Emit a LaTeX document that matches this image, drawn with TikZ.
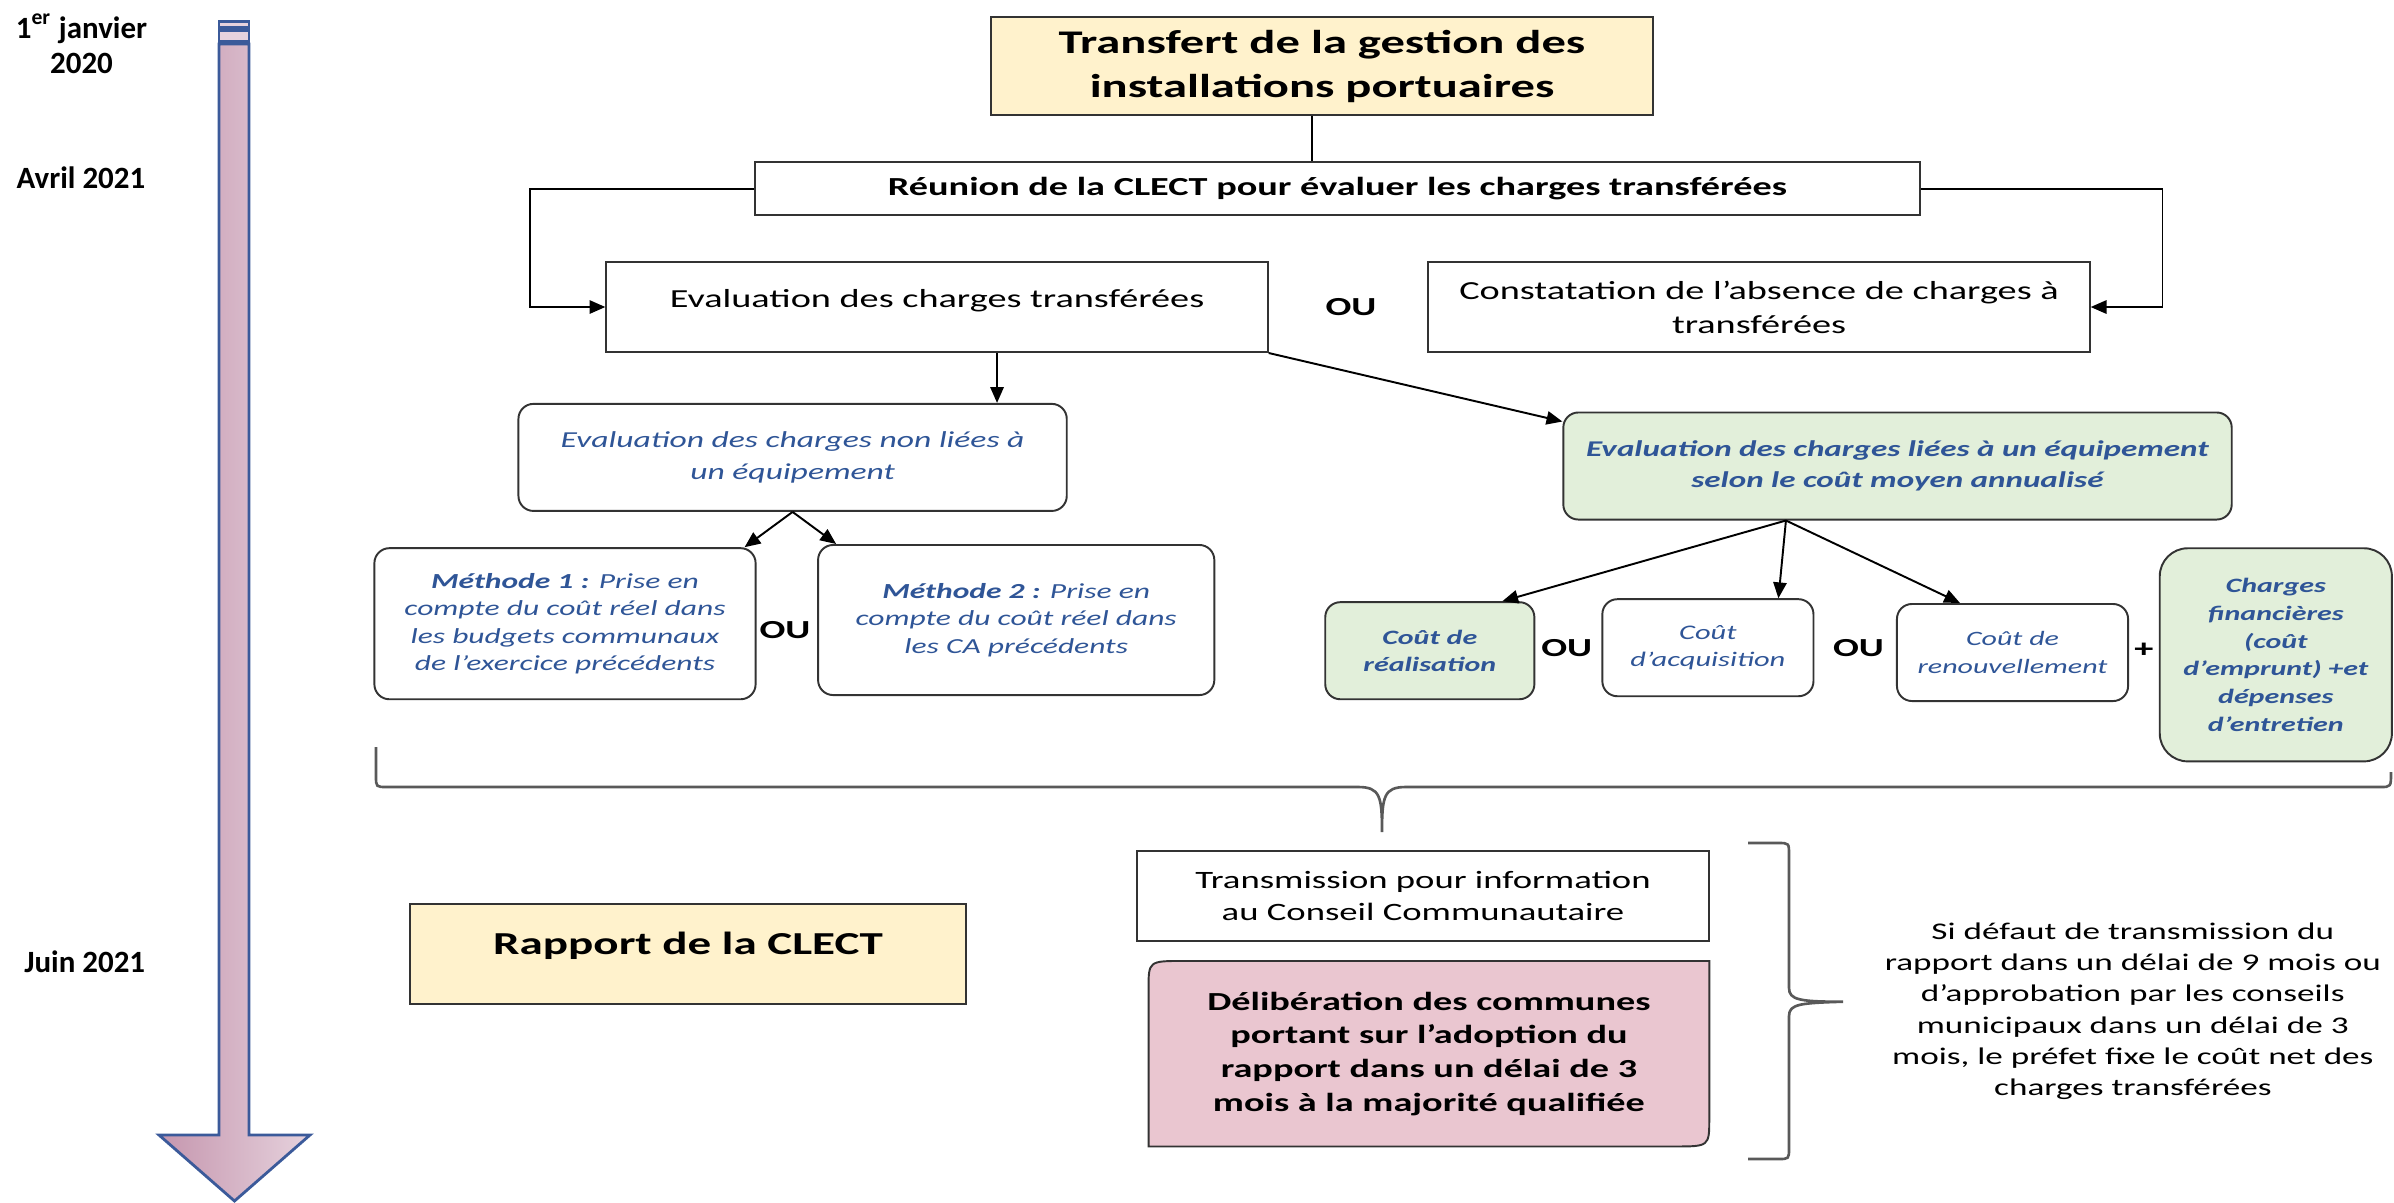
\documentclass[tikz,border=0pt]{standalone}
\usepackage{fontspec}
\setmainfont{Carlito}[FakeStretch=1.47]
\newfontfamily\datefont{Carlito}
\usepackage{xcolor}
\usepackage{tikz}
\usetikzlibrary{arrows.meta,backgrounds}

\definecolor{evalblue}{HTML}{2F5597}
\definecolor{notegreen}{HTML}{E2EFDA}
\definecolor{titleyellow}{HTML}{FFF2CC}
\definecolor{delibpink}{HTML}{EAC6D0}
\definecolor{axisblue}{HTML}{3B5A9A}
\definecolor{axisdark}{HTML}{C596AE}
\definecolor{axislight}{HTML}{E6D2DD}

\newcommand{\fsz}[2]{\fontsize{#1pt}{#2pt}\selectfont}

\begin{document}
\begin{tikzpicture}[
  x=0.01cm, y=-0.01cm,   % one unit = one pixel of the page, y going down
  >={Triangle[length=4.5pt,width=3.8pt]},
  flatnode/.style={rectangle, draw=black!80, fill=white, line width=0.55pt, align=center, inner sep=1pt},
  yellownode/.style={flatnode, fill=titleyellow},
  roundnode/.style={flatnode, rounded corners=0.15cm, text=evalblue},
  greennode/.style={roundnode, fill=notegreen},
  ornode/.style={font=\bfseries\fsz{7.4}{9}, inner sep=0pt},
  datenode/.style={font=\datefont\bfseries\fsz{8.8}{10}, align=center, inner sep=0pt},
  link/.style={draw, ->, line width=0.55pt},
  bracket/.style={draw=black!65, line width=0.75pt},
  axisline/.style={draw=axisblue, line width=0.8pt}
]
  \useasboundingbox (0,0) rectangle (2394,1202);

  % time axis
  \draw[axisline, left color=axisdark, right color=axislight]
    (219,44) -- (219,1135) -- (159,1135) -- (234.5,1201) -- (310,1135) -- (249,1135) -- (249,44) -- cycle;
  \draw[axisline, fill=axislight] (219,21.7) rectangle (249,27.3);
  \draw[axisline, fill=axislight] (219,30.7) rectangle (249,41.7);
  \node[datenode] (jan) at (81.5,44) {1\textsuperscript{er} janvier\\2020};
  \node[datenode] (avril) at (81,178) {Avril 2021};
  \node[datenode] (juin) at (84.7,961.7) {Juin 2021};

  % CLECT
  \node[yellownode, minimum width=6.61cm, minimum height=0.98cm, font=\bfseries\fsz{9.4}{12.5}] (trans) at (1322,66) {Transfert de la gestion des\\installations portuaires};
  \node[flatnode, minimum width=11.65cm, minimum height=0.53cm, font=\bfseries\fsz{7.4}{9}] (reunion) at (1337.5,188.7) {Réunion de la CLECT pour évaluer les charges transférées};
  \node[flatnode, minimum width=6.61cm, minimum height=0.9cm, text height=0.1cm, text depth=0.1cm, font=\fsz{7.4}{9.7}] (evalct) at (937,307) {Evaluation des charges transférées};
  \node[ornode] (ou1) at (1351,307) {OU};
  \node[flatnode, minimum width=6.61cm, minimum height=0.9cm, font=\fsz{7.4}{9.7}] (absence) at (1759,307) {Constatation de l’absence de charges à\\transférées};

  \draw[line width=0.55pt] ([xshift=-0.1cm]trans.south) -- ([xshift=-0.1cm]trans.south |- reunion.north);
  \draw[link] (reunion.west) -- ++(-2.24cm,0) |- (evalct.west);
  \draw[link] (reunion.east) -- ++(2.41cm,0) |- (absence.east);

  % charges non liees
  \node[roundnode, minimum width=5.48cm, minimum height=1.07cm, font=\itshape\fsz{6.5}{9.1}] (nonlie) at (792.6,457.4) {Evaluation des charges non liées à\\un équipement};
  \node[roundnode, minimum width=3.81cm, minimum height=1.51cm, font=\itshape\fsz{6.1}{7.8}] (meth1) at (565,623.7) {\textbf{Méthode 1 :} Prise en\\compte du coût réel dans\\les budgets communaux\\de l’exercice précédents};
  \node[ornode] (ou2) at (785,630) {OU};
  \node[roundnode, minimum width=3.96cm, minimum height=1.5cm, font=\itshape\fsz{6.1}{7.8}] (meth2) at (1016.2,620) {\textbf{Méthode 2 :} Prise en\\compte du coût réel dans\\les CA précédents};

  \draw[link] ([xshift=0.6cm]evalct.south) -- ([xshift=0.6cm]evalct.south |- nonlie.north);
  \draw[link] (nonlie.south) -- ([xshift=-0.12cm]meth1.north east);
  \draw[link] (nonlie.south) -- ([xshift=0.19cm]meth2.north west);

  % charges liees a un equipement
  \node[greennode, minimum width=6.68cm, minimum height=1.07cm, font=\bfseries\itshape\fsz{6.4}{8.8}] (lie) at (1897.5,466) {Evaluation des charges liées à un équipement\\selon le coût moyen annualisé};
  \node[greennode, minimum width=2.09cm, minimum height=0.97cm, font=\bfseries\itshape\fsz{5.8}{7.7}] (real) at (1429.8,650.7) {Coût de\\réalisation};
  \node[ornode] (ou3) at (1566.7,648.3) {OU};
  \node[roundnode, minimum width=2.11cm, minimum height=0.97cm, font=\itshape\fsz{5.9}{7.7}] (acq) at (1707.9,647.7) {Coût\\d’acquisition};
  \node[ornode] (ou4) at (1858.5,648.3) {OU};
  \node[roundnode, minimum width=2.31cm, minimum height=0.97cm, font=\itshape\fsz{5.8}{7.7}] (renouv) at (2012.5,652.5) {Coût de\\renouvellement};
  \node[ornode] (plus) at (2143.8,650) {+};
  \node[greennode, rounded corners=0.28cm, minimum width=2.32cm, minimum height=2.13cm, font=\bfseries\itshape\fsz{5.8}{7.9}] (finance) at (2275.8,654.8) {Charges\\financières\\(coût\\d’emprunt) +et\\dépenses\\d’entretien};

  \draw[link] (evalct.south east) -- ([yshift=-0.1cm]lie.north west);
  \draw[link] ([xshift=-1.115cm]lie.south) -- ([xshift=-0.33cm]real.north east);
  \draw[link] ([xshift=-1.115cm]lie.south) -- ([xshift=-0.36cm]acq.north east);
  \draw[link] ([xshift=-1.115cm]lie.south) -- ([xshift=0.64cm]renouv.north west);

  % accolade horizontale
  \draw[bracket] (376,747) -- (376,776) .. controls (376,787) .. (387,787) -- (1358,787)
    .. controls (1380,787) and (1382,796) .. (1382,832)
    .. controls (1382,796) and (1384,787) .. (1406,787) -- (2380,787) .. controls (2391,787) .. (2391,772);

  % rapport
  \node[yellownode, minimum width=5.55cm, minimum height=1.0cm, text height=0.15cm, text depth=0.15cm, font=\bfseries\fsz{9.1}{11}] (rapport) at (688,954) {Rapport de la CLECT};
  \node[flatnode, minimum width=5.72cm, minimum height=0.9cm, font=\fsz{7.1}{9.3}] (transmis) at (1423,895.9) {Transmission pour information\\au Conseil Communautaire};
  \node[align=center, minimum width=5.59cm, minimum height=1.84cm, inner sep=1pt, font=\bfseries\fsz{7.4}{9.6}] (delib) at (1428.9,1053.7) {Délibération des communes\\portant sur l’adoption du\\rapport dans un délai de 3\\mois à la majorité qualifiée};
  \begin{scope}[on background layer]
    \draw[fill=delibpink, draw=black!80, line width=0.55pt] (delib.south west) -- ([yshift=-0.28cm]delib.north west)
      .. controls (delib.north west) .. ([xshift=0.35cm]delib.north west) -- (delib.north east)
      -- ([yshift=0.28cm]delib.south east) .. controls (delib.south east) .. ([xshift=-0.35cm]delib.south east) -- cycle;
  \end{scope}

  % accolade verticale
  \draw[bracket] (1748,843) -- (1778,843) .. controls (1789,843) .. (1789,855) -- (1789,988)
    .. controls (1789,1000) and (1800,1001.7) .. (1843,1001.7)
    .. controls (1800,1003) and (1789,1004) .. (1789,1016) -- (1789,1148) .. controls (1789,1159) .. (1778,1159) -- (1748,1159);
  \node[align=center, font=\fsz{6.8}{8.9}] (note) at (2132.8,1011.3) {Si défaut de transmission du\\rapport dans un délai de 9 mois ou\\d’approbation par les conseils\\municipaux dans un délai de 3\\mois, le préfet fixe le coût net des\\charges transférées};
\end{tikzpicture}
\end{document}
